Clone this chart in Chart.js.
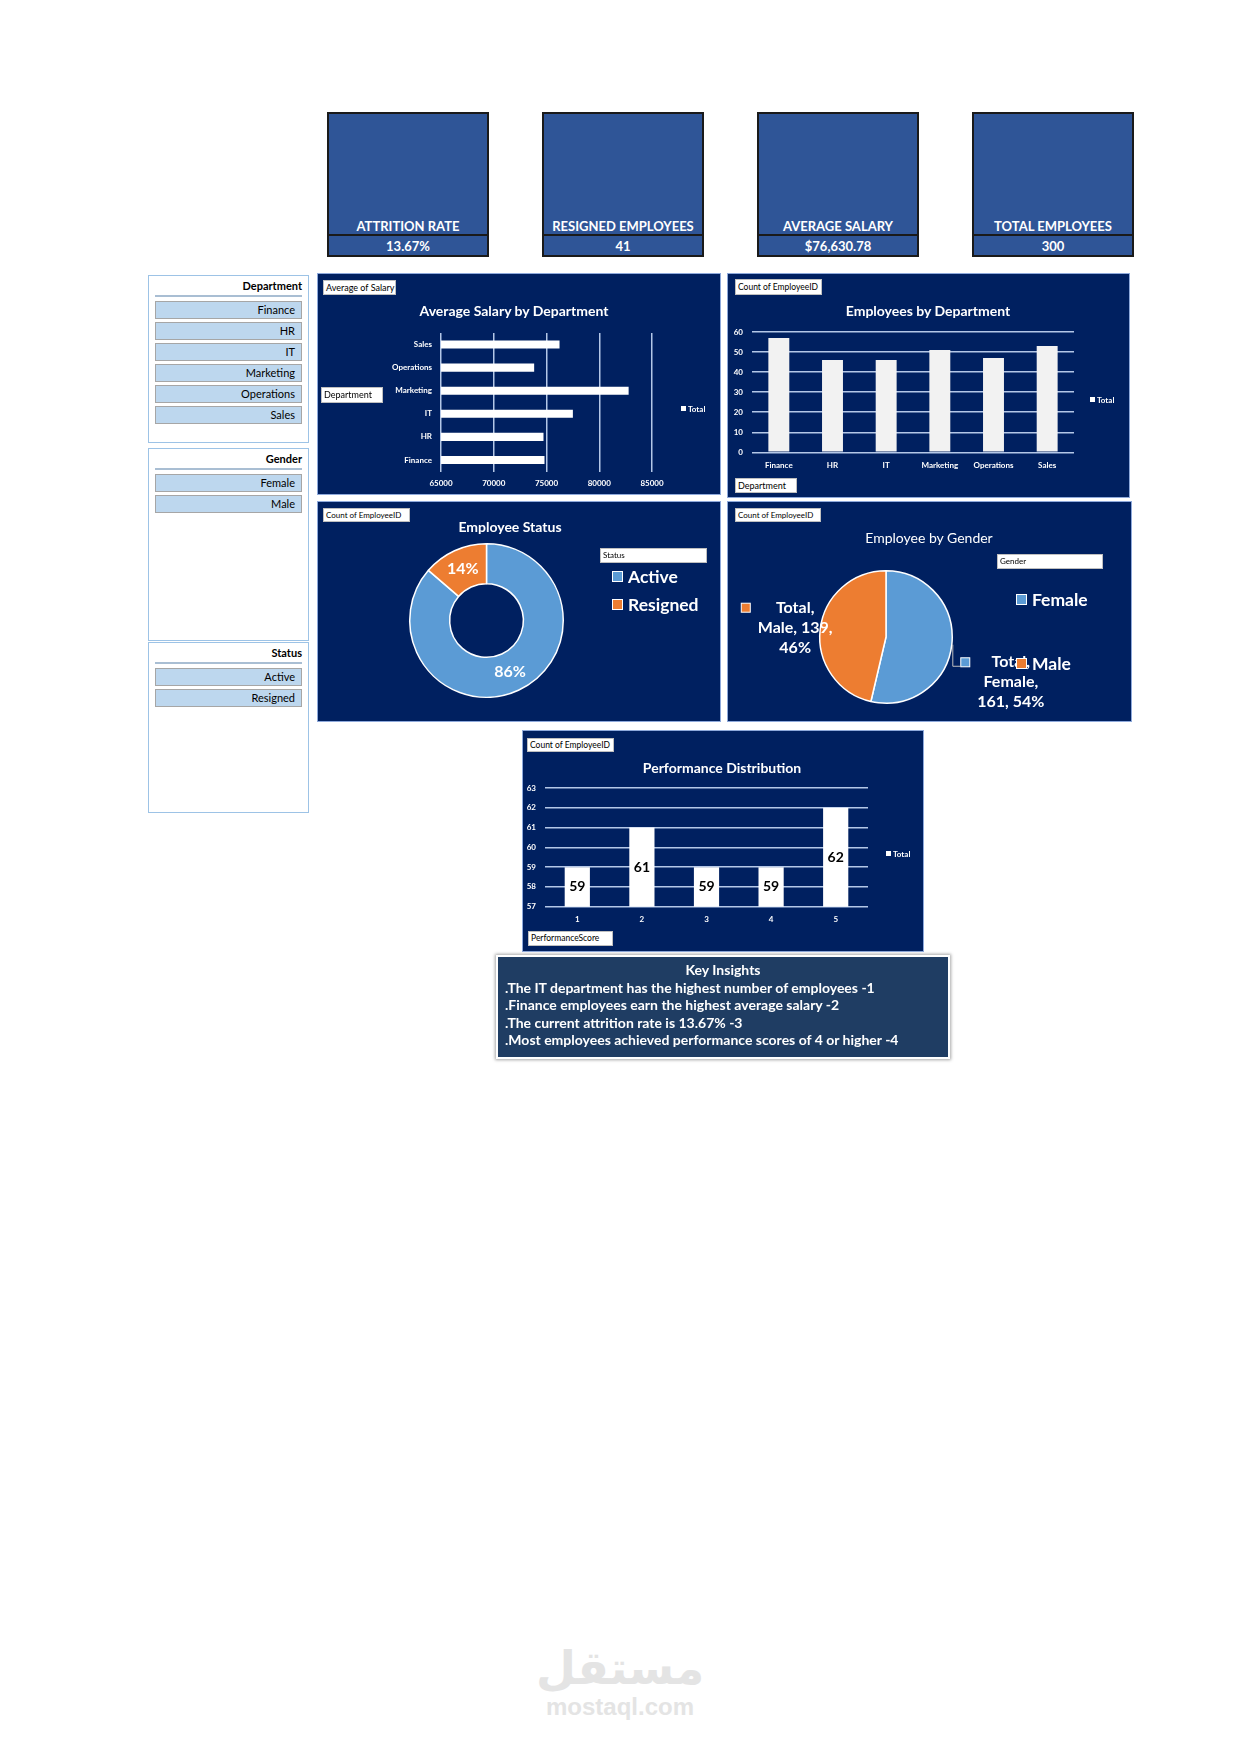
<!DOCTYPE html>
<html>
<head>
<meta charset="utf-8">
<script src="https://cdn.jsdelivr.net/npm/chart.js@4.4.1/dist/chart.umd.min.js"></script>
<style>
    body { margin: 0; width: 1240px; height: 1754px; position: relative; background: #fff; overflow: hidden; font-family: Lato, 'Noto Sans', sans-serif; }
    .abs { position: absolute; }
    .kpi { position: absolute; top: 112px; width: 158px; height: 141px; background: #2F5597; border: 2px solid #1a1a1a; color: #fff; font-weight: bold; font-size: 13px; text-align: center; }
    .kpi .t { position: absolute; left: 0; right: 0; bottom: 20px; line-height: 18px; }
    .kpi .v { position: absolute; left: 0; right: 0; bottom: 0; height: 19px; line-height: 21px; border-top: 2px solid #1a1a1a; }
    .slicer { position: absolute; left: 148px; width: 159px; background: #fff; border: 1px solid #9DC3E6; }
    .slicer .h { position: absolute; right: 6px; top: 2px; font-size: 11px; font-weight: bold; color: #000; line-height: 16px; }
    .slicer .ln { position: absolute; left: 6px; right: 6px; top: 19px; height: 2px; background: #A9BED3; }
    .slicer .b { position: absolute; left: 6px; width: 145px; height: 16px; background: #BDD7EE; border: 1px solid #A6A6A6; font-size: 11px; line-height: 16px; text-align: right; color: #000; }
    .slicer .b span { margin-right: 6px; }
    .panel { position: absolute; background: #002060; outline: 1px solid #8EA9DB; outline-offset: -1px; }
    .panel canvas { position: absolute; left: 0; top: 0; }
    .fb { position: absolute; background: #fff; border: 1px solid #bfbfbf; box-sizing: border-box; font-size: 8.5px; line-height: 13px; color: #000; padding-left: 2px; white-space: nowrap; overflow: hidden; }
    .ttl { position: absolute; width: 300px; text-align: center; color: #fff; font-weight: bold; font-size: 14px; line-height: 18px; }
    .tot { position: absolute; color: #fff; font-size: 8px; font-weight: bold; line-height: 10px; }
    .tot i { display: inline-block; width: 5px; height: 5px; background: #fff; margin-right: 2px; vertical-align: 1px; }
    .lg { position: absolute; color: #fff; font-size: 17.5px; font-weight: bold; line-height: 20px; white-space: nowrap; }
    .lg i { display: inline-block; width: 9px; height: 9px; border: 1px solid #fff; margin-right: 5px; vertical-align: 1px; }
    .insights { position: absolute; left: 496px; top: 955px; width: 450px; height: 100px; background: #1F3D63; border: 2px solid #fff; box-shadow: 0 0 3px 1px rgba(0,0,0,0.35); color: #fff; font-size: 14px; font-weight: bold; }
    .insights div { position: absolute; left: 7px; line-height: 17px; white-space: nowrap; }
</style>
</head>
<body>

<div id="kpis"></div>
<div id="slicers"></div>

<div class="panel" style="left:317px;top:273px;width:404px;height:222px;">
    <canvas id="salaryChart" width="404" height="222"></canvas>
    <div class="fb" style="left:6px;top:7px;width:73px;height:15px;font-size:9px;">Average of Salary</div>
    <div class="ttl" style="left:47px;top:29px;">Average Salary by Department</div>
    <div class="fb" style="left:4px;top:114px;width:62px;height:16px;line-height:14px;font-size:9px;">Department</div>
    <div class="tot" style="left:364px;top:131px;"><i></i>Total</div>
</div>

<div class="panel" style="left:727px;top:273px;width:403px;height:225px;">
    <canvas id="deptChart" width="403" height="225"></canvas>
    <div class="fb" style="left:8px;top:6px;width:87px;height:16px;line-height:14px;">Count of EmployeeID</div>
    <div class="ttl" style="left:51px;top:29px;">Employees by Department</div>
    <div class="fb" style="left:8px;top:205px;width:62px;height:15px;font-size:9px;">Department</div>
    <div class="tot" style="left:363px;top:122px;"><i></i>Total</div>
</div>

<div class="panel" style="left:317px;top:501px;width:404px;height:221px;">
    <canvas id="statusChart" width="404" height="221"></canvas>
    <div class="fb" style="left:6px;top:7px;width:87px;height:14px;font-size:8px;line-height:12px;">Count of EmployeeID</div>
    <div class="ttl" style="left:43px;top:17px;">Employee Status</div>
    <div class="fb" style="left:283px;top:47px;width:107px;height:15px;font-size:8px;">Status</div>
    <div class="lg" style="left:295px;top:66px;"><i style="background:#5B9BD5"></i>Active</div>
    <div class="lg" style="left:295px;top:94px;"><i style="background:#ED7D31"></i>Resigned</div>
</div>

<div class="panel" style="left:727px;top:501px;width:405px;height:221px;">
    <canvas id="genderChart" width="405" height="221"></canvas>
    <div class="fb" style="left:8px;top:7px;width:86px;height:14px;font-size:8px;line-height:12px;">Count of EmployeeID</div>
    <div class="ttl" style="left:52px;top:28px;font-weight:normal;">Employee by Gender</div>
    <div class="fb" style="left:270px;top:53px;width:106px;height:15px;font-size:8px;">Gender</div>
    <div class="lg" style="left:289px;top:89px;"><i style="background:#5B9BD5"></i>Female</div>
    <div class="lg" style="left:289px;top:153px;"><i style="background:#ED7D31"></i>Male</div>
</div>

<div class="panel" style="left:522px;top:730px;width:402px;height:222px;">
    <canvas id="perfChart" width="402" height="222"></canvas>
    <div class="fb" style="left:5px;top:8px;width:87px;height:14px;line-height:12px;">Count of EmployeeID</div>
    <div class="ttl" style="left:50px;top:29px;">Performance Distribution</div>
    <div class="fb" style="left:6px;top:201px;width:85px;height:15px;">PerformanceScore</div>
    <div class="tot" style="left:364px;top:119px;"><i></i>Total</div>
</div>

<div class="insights" id="insights"></div>

<div class="abs" style="left:420px;top:1640px;width:400px;text-align:center;color:#e4e4e4;font-family:'DejaVu Sans';font-weight:bold;font-size:46px;line-height:56px;">مستقل</div>
<div class="abs" style="left:420px;top:1692px;width:400px;text-align:center;color:#e4e4e4;font-family:'Liberation Sans';font-weight:bold;font-size:24px;line-height:30px;">mostaql.com</div>

<script>
    'use strict';
    const kpiTitles = ['ATTRITION RATE', 'RESIGNED EMPLOYEES', 'AVERAGE SALARY', 'TOTAL EMPLOYEES'];
    const kpiValues = ['13.67%', '41', '$76,630.78', '300'];

    const departments = ['Finance', 'HR', 'IT', 'Marketing', 'Operations', 'Sales'];
    const avgSalary = [74810, 74715, 77500, 82785, 73830, 76235];
    const deptCounts = [57, 46, 46, 51, 47, 53];

    const statusLabels = ['Active', 'Resigned'];
    const statusCounts = [259, 41];

    const genderLabels = ['Female', 'Male'];
    const genderCounts = [161, 139];

    const perfScores = ['1', '2', '3', '4', '5'];
    const perfCounts = [59, 61, 59, 59, 62];

    const salaryTicks = { min: 65000, max: 85000, step: 5000 };
    const deptTicks = { min: 0, max: 60, step: 10 };
    const perfTicks = { min: 57, max: 63, step: 1 };

    const insights = [
        'Key Insights',
        '.The IT department has the highest number of employees -1',
        '.Finance employees earn the highest average salary -2',
        '.The current attrition rate is 13.67% -3',
        '.Most employees achieved performance scores of 4 or higher -4'
    ];

    // KPI cards
    const kpiLeft = [327, 542, 757, 972];
    let html = '';
    kpiTitles.forEach(function (t, i) {
        html += `<div class="kpi" style="left:${kpiLeft[i]}px"><div class="t">${t}</div><div class="v">${kpiValues[i]}</div></div>`;
    });
    document.getElementById('kpis').innerHTML = html;

    // slicers
    const slicers = [
        { title: 'Department', items: departments, top: 275, height: 166 },
        { title: 'Gender', items: genderLabels, top: 448, height: 191 },
        { title: 'Status', items: statusLabels, top: 642, height: 169 }
    ];
    html = '';
    slicers.forEach(function (s) {
        html += `<div class="slicer" style="top:${s.top}px;height:${s.height}px"><div class="h">${s.title}</div><div class="ln"></div>`;
        s.items.forEach(function (item, i) {
            html += `<div class="b" style="top:${25 + i * 21}px"><span>${item}</span></div>`;
        });
        html += '</div>';
    });
    document.getElementById('slicers').innerHTML = html;

    html = '';
    insights.forEach(function (line, i) {
        if (i === 0) {
            html += `<div style="left:0;right:0;text-align:center;top:4px">${line}</div>`;
        } else {
            html += `<div style="top:${4 + i * 17.5}px">${line}</div>`;
        }
    });
    document.getElementById('insights').innerHTML = html;

    Chart.defaults.font.family = 'Lato';
    Chart.defaults.color = '#fff';
    Chart.defaults.animation = false;
    Chart.defaults.responsive = false;
    Chart.defaults.devicePixelRatio = 1;
    Chart.defaults.plugins.legend.display = false;
    Chart.defaults.plugins.tooltip.enabled = false;

    const gridColor = '#B4C7E7';
    const tickFont = { size: 8, weight: 'bold' };

    // Average salary (horizontal bars)
    new Chart(document.getElementById('salaryChart'), {
        type: 'bar',
        data: {
            labels: departments,
            datasets: [{ label: 'Total', data: avgSalary, backgroundColor: '#fff', barPercentage: 0.35, categoryPercentage: 1 }]
        },
        options: {
            indexAxis: 'y',
            layout: { padding: { left: 0, right: 69, top: 60, bottom: 0 } },
            scales: {
                x: {
                    min: salaryTicks.min, max: salaryTicks.max,
                    ticks: { stepSize: salaryTicks.step, font: tickFont, padding: 7, callback: (v) => String(v) },
                    grid: { color: gridColor, lineWidth: 1.5, drawTicks: false },
                    border: { display: false },
                    afterFit: (s) => { s.height = 23.5; }
                },
                y: {
                    reverse: true,
                    ticks: { font: tickFont, padding: 9 },
                    grid: { display: false, drawTicks: false },
                    border: { display: false },
                    afterFit: (s) => { s.width = 124; }
                }
            }
        }
    });

    // Employees by department
    new Chart(document.getElementById('deptChart'), {
        type: 'bar',
        data: {
            labels: departments,
            datasets: [{ label: 'Total', data: deptCounts, backgroundColor: '#F2F2F2', barPercentage: 0.39, categoryPercentage: 1 }]
        },
        options: {
            layout: { padding: { left: 0, right: 56, top: 59, bottom: 0 } },
            scales: {
                x: {
                    ticks: { font: tickFont, padding: 8 },
                    grid: { display: false, drawTicks: false },
                    border: { display: false },
                    afterFit: (s) => { s.height = 45.7; }
                },
                y: {
                    min: deptTicks.min, max: deptTicks.max,
                    ticks: { stepSize: deptTicks.step, font: tickFont, padding: 9 },
                    grid: { color: gridColor, lineWidth: 1.5, drawTicks: false },
                    border: { display: false },
                    afterFit: (s) => { s.width = 25; }
                }
            }
        }
    });

    // percentage labels on the donut
    const donutLabels = {
        id: 'donutLabels',
        afterDatasetsDraw(chart) {
            const ctx = chart.ctx;
            const data = chart.data.datasets[0].data;
            const total = data.reduce((a, b) => a + b, 0);
            ctx.save();
            ctx.font = 'bold 16px Lato';
            ctx.fillStyle = '#fff';
            ctx.textAlign = 'center';
            ctx.textBaseline = 'middle';
            chart.getDatasetMeta(0).data.forEach(function (arc, i) {
                const p = arc.tooltipPosition();
                ctx.fillText(Math.round(data[i] / total * 100) + '%', p.x, p.y);
            });
            ctx.restore();
        }
    };

    new Chart(document.getElementById('statusChart'), {
        type: 'doughnut',
        data: {
            labels: statusLabels,
            datasets: [{ data: statusCounts, backgroundColor: ['#5B9BD5', '#ED7D31'], borderColor: '#fff', borderWidth: 1.5 }]
        },
        options: {
            cutout: '48%',
            layout: { padding: { left: 92, right: 157, top: 42, bottom: 24 } }
        },
        plugins: [donutLabels]
    });

    // wrap a label the way excel does
    function wrapText(ctx, text, maxWidth) {
        const words = text.split(' ');
        const lines = [];
        let line = '';
        words.forEach(function (w) {
            const test = line ? line + ' ' + w : w;
            if (line && ctx.measureText(test).width > maxWidth) {
                lines.push(line);
                line = w;
            } else {
                line = test;
            }
        });
        lines.push(line);
        return lines;
    }

    // outside labels with legend keys on the pie
    const pieLabels = {
        id: 'pieLabels',
        afterDatasetsDraw(chart, args, opts) {
            const ctx = chart.ctx;
            const ds = chart.data.datasets[0];
            const total = ds.data.reduce((a, b) => a + b, 0);
            ctx.save();
            ctx.font = 'bold 16px Lato';
            ctx.textAlign = 'center';
            ctx.textBaseline = 'middle';
            chart.getDatasetMeta(0).data.forEach(function (arc, i) {
                const mid = (arc.startAngle + arc.endAngle) / 2;
                const r = arc.outerRadius;
                const cx = arc.x + Math.cos(mid) * r * opts.dist + opts.nudge[i][0];
                const cy = arc.y + Math.sin(mid) * r * opts.dist + opts.nudge[i][1];
                const text = `Total, ${chart.data.labels[i]}, ${ds.data[i]}, ${Math.round(ds.data[i] / total * 100)}%`;
                const lines = wrapText(ctx, text, opts.maxWidth);
                const lh = 20;
                const y0 = cy - (lines.length - 1) * lh / 2;
                let widest = 0;
                lines.forEach(function (l) { widest = Math.max(widest, ctx.measureText(l).width); });
                const kx = cx - widest / 2 - 12;
                if (opts.leader[i]) {
                    ctx.strokeStyle = '#BFBFBF';
                    ctx.lineWidth = 1;
                    const ex = arc.x + Math.cos(mid) * (r + 1);
                    const ey = arc.y + Math.sin(mid) * (r + 1);
                    ctx.beginPath();
                    ctx.moveTo(ex, ey);
                    ctx.lineTo(ex, y0 + 4);
                    ctx.lineTo(kx - 5, y0 + 4);
                    ctx.stroke();
                }
                ctx.fillStyle = ds.backgroundColor[i];
                ctx.fillRect(kx - 4.5, y0 - 4.5, 9, 9);
                ctx.strokeStyle = '#fff';
                ctx.lineWidth = 1;
                ctx.strokeRect(kx - 4.5, y0 - 4.5, 9, 9);
                ctx.fillStyle = '#fff';
                lines.forEach(function (l, j) { ctx.fillText(l, cx, y0 + j * lh); });
            });
            ctx.restore();
        }
    };

    new Chart(document.getElementById('genderChart'), {
        type: 'pie',
        data: {
            labels: genderLabels,
            datasets: [{ data: genderCounts, backgroundColor: ['#5B9BD5', '#ED7D31'], borderColor: '#fff', borderWidth: 1.5 }]
        },
        options: {
            layout: { padding: { left: 92, right: 179, top: 69, bottom: 18 } },
            plugins: {
                pieLabels: { dist: 1.35, maxWidth: 76, nudge: [[36, 35], [-2, 1]], leader: [true, false] }
            }
        },
        plugins: [pieLabels]
    });

    // value labels centred in the visible part of each bar
    const barLabels = {
        id: 'barLabels',
        afterDatasetsDraw(chart) {
            const ctx = chart.ctx;
            const data = chart.data.datasets[0].data;
            const bottom = chart.chartArea.bottom;
            ctx.save();
            ctx.font = 'bold 14px Lato';
            ctx.fillStyle = '#000';
            ctx.textAlign = 'center';
            ctx.textBaseline = 'middle';
            chart.getDatasetMeta(0).data.forEach(function (bar, i) {
                ctx.fillText(data[i], bar.x, (bar.y + bottom) / 2);
            });
            ctx.restore();
        }
    };

    new Chart(document.getElementById('perfChart'), {
        type: 'bar',
        data: {
            labels: perfScores,
            datasets: [{ label: 'Total', data: perfCounts, backgroundColor: '#fff', barPercentage: 0.39, categoryPercentage: 1 }]
        },
        options: {
            layout: { padding: { left: 0, right: 56, top: 58, bottom: 0 } },
            scales: {
                x: {
                    ticks: { font: tickFont, padding: 8 },
                    grid: { display: false, drawTicks: false },
                    border: { display: false },
                    afterFit: (s) => { s.height = 45.3; }
                },
                y: {
                    min: perfTicks.min, max: perfTicks.max,
                    ticks: { stepSize: perfTicks.step, font: tickFont, padding: 9 },
                    grid: { color: gridColor, lineWidth: 1.5, drawTicks: false },
                    border: { display: false },
                    afterFit: (s) => { s.width = 23; }
                }
            }
        },
        plugins: [barLabels]
    });
</script>
</body>
</html>
